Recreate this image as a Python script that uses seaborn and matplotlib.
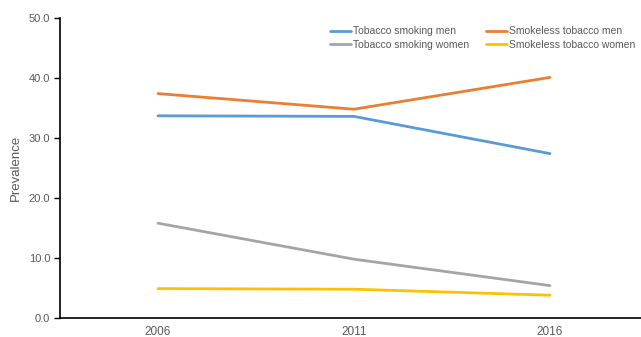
import matplotlib
matplotlib.use("Agg")
import matplotlib.pyplot as plt
import seaborn as sns
import pandas as pd

years = ["2006", "2011", "2016"]
smoking_men = [33.7, 33.6, 27.4]
smokeless_men = [37.4, 34.8, 40.1]
smoking_women = [15.8, 9.8, 5.4]
smokeless_women = [4.9, 4.8, 3.8]

series_names = ["Tobacco smoking men", "Smokeless tobacco men",
                "Tobacco smoking women", "Smokeless tobacco women"]
colors = ["#5B9BD5", "#ED7D31", "#A5A5A5", "#FFC000"]

rows = []
for name, vals in zip(series_names, [smoking_men, smokeless_men, smoking_women, smokeless_women]):
    for i, (y, v) in enumerate(zip(years, vals)):
        rows.append({"idx": i, "year": y, "value": v, "series": name})
df = pd.DataFrame(rows)

sns.set_style("white")
plt.rcParams["font.family"] = ["Liberation Sans", "DejaVu Sans"]

fig = plt.figure(figsize=(6.41, 3.37), dpi=100)
ax = fig.add_axes([60 / 641, 1 - 318 / 337, 588 / 641, 300 / 337])

sns.lineplot(data=df, x="idx", y="value", hue="series", hue_order=series_names,
             palette=colors, linewidth=2.0, ax=ax, legend=False)

# legend handles in column-major order so rows read as in the reference
order = [0, 2, 1, 3]
for k in order:
    ax.plot([], [], color=colors[k], linewidth=2.0, label=series_names[k])

ax.set_xlim(-0.5, 2.5)
ax.set_ylim(0, 50)
ax.set_xticks(range(len(years)))
ax.set_xticklabels(years)
ax.set_yticks([0, 10, 20, 30, 40, 50])
ax.set_yticklabels([f"{v:.1f}" for v in [0, 10, 20, 30, 40, 50]])
ax.tick_params(axis="y", labelsize=8, labelcolor="#595959", direction="out",
               length=4, width=1, color="black", left=True, pad=3)
ax.tick_params(axis="x", labelsize=8.5, labelcolor="#595959", length=0, pad=6)
ax.set_xlabel("")
ax.set_ylabel("Prevalence", fontsize=9.5, color="#595959", labelpad=5)

for s in ["top", "right"]:
    ax.spines[s].set_visible(False)
for s in ["left", "bottom"]:
    ax.spines[s].set_color("black")
    ax.spines[s].set_linewidth(1.2)

ax.legend(ncol=2, loc="upper left", bbox_to_anchor=(266 / 588, 1.0 - 4 / 300),
          frameon=False, fontsize=7.5, labelcolor="#595959", handlelength=2.0,
          handletextpad=0.2, columnspacing=1.6, labelspacing=0.35, borderaxespad=0)

fig.savefig("out.png", dpi=100)
